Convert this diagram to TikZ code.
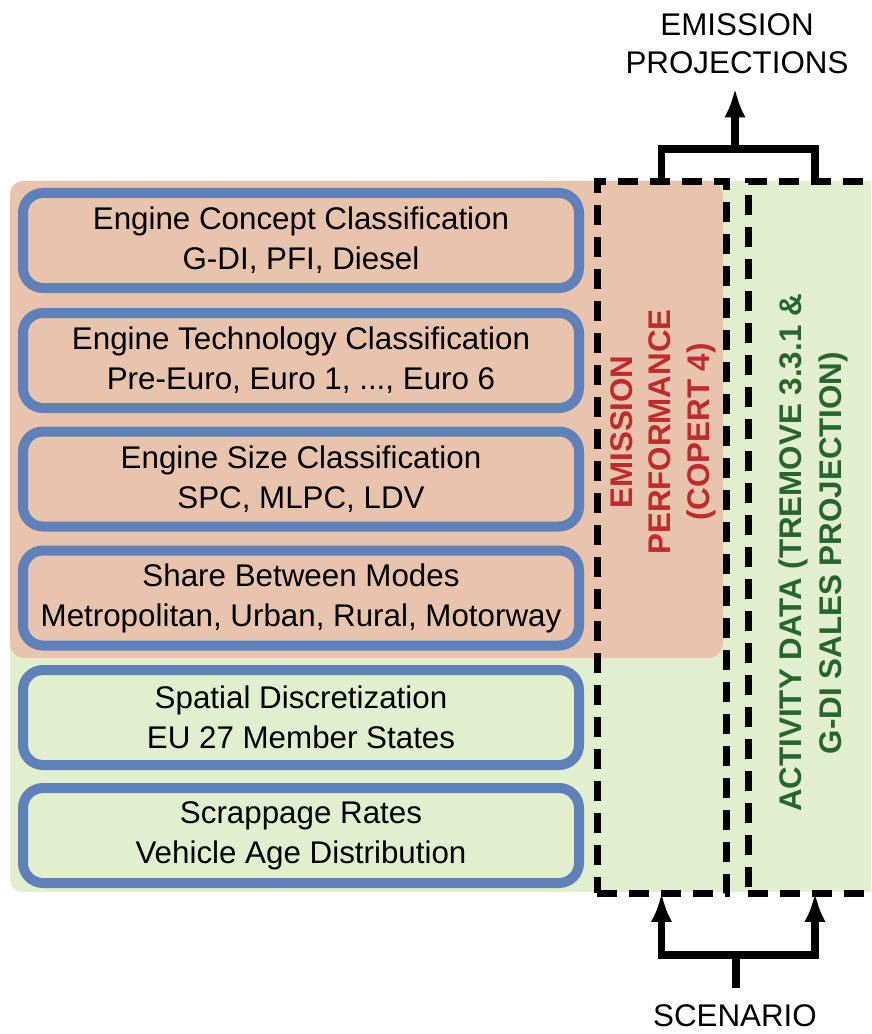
\documentclass[tikz,border=0pt]{standalone}
\usepackage{fontspec}
\setmainfont{Liberation Sans}
\usetikzlibrary{arrows.meta}
\definecolor{bluebox}{RGB}{94,129,186}
\definecolor{salmonbg}{RGB}{232,196,172}
\definecolor{greenbg}{RGB}{226,239,207}
\definecolor{redtxt}{RGB}{192,42,44}
\definecolor{greentxt}{RGB}{38,102,46}
\tikzset{
  x=0.75pt, y=-0.75pt,
  txt/.style={font=\fontsize{23.5}{30}\selectfont, align=center, inner sep=0pt},
  stagebox/.style={txt, draw=bluebox, line width=7.5pt, rounded corners=15pt,
    minimum width=417pt, minimum height=71.25pt},
  dashbox/.style={draw=black, line width=5.25pt, dash pattern=on 15pt off 9pt,
    inner sep=0pt},
  conn/.style={draw=black, line width=5.6pt},
  arr/.style={conn, -{Latex[length=22pt,width=16pt]}},
  vtxt/.style={font=\fontsize{23.5}{29}\selectfont\bfseries, align=center,
    inner sep=0pt, rotate=90}
}
\begin{document}
\begin{tikzpicture}
\useasboundingbox (0,0) rectangle (871,1034);
\begin{scope}
\clip (0,0) rectangle (871,1034);
\fill[greenbg, rounded corners=9pt] (10,181) rectangle (900,892);
\fill[salmonbg, rounded corners=11pt] (10,181) rectangle (723,658);

\node[stagebox] (b1) at (301,240.5) {Engine Concept Classification\\G-DI, PFI, Diesel};
\node[stagebox] (b2) at (301,360.5) {Engine Technology Classification\\Pre-Euro, Euro 1, ..., Euro 6};
\node[stagebox] (b3) at (301,479) {Engine Size Classification\\SPC, MLPC, LDV};
\node[stagebox] (b4) at (301,598) {Share Between Modes\\Metropolitan, Urban, Rural, Motorway};
\node[stagebox] (b5) at (301,717.5) {Spatial Discretization\\EU 27 Member States};
\node[stagebox] (b6) at (301,835.5) {Scrappage Rates\\Vehicle Age Distribution};

\node[dashbox, minimum width=96.75pt, minimum height=533.25pt] (perf) at (661.5,537.5) {};
\node[dashbox, minimum width=100.5pt, minimum height=533.25pt] (act) at (815,537.5) {};

\node[vtxt, text=redtxt] (perftxt) at (663,432) {EMISSION\\PERFORMANCE\\(COPERT 4)};
\node[vtxt, text=greentxt, font=\fontsize{23.5}{30}\selectfont\bfseries] (acttxt) at (813,553) {ACTIVITY DATA (TREMOVE 3.3.1 \&\\G-DI SALES PROJECTION)};
\end{scope}

\node[txt, font=\fontsize{23.5}{28.5}\selectfont] (emis) at (737,44) {EMISSION\\PROJECTIONS};
\node[txt] (scen) at (735,1016) {SCENARIO};

\coordinate (top) at (735,149);
\coordinate (tipT) at (735,88);
\coordinate (bot) at (736,955);
\coordinate (botS) at (736,988);

\draw[conn] (perf.north) |- (top) -| (act.north);
\draw[arr] (top) -- (tipT);
\draw[conn] (botS) -- (bot);
\draw[arr, shorten >=-3pt] (bot) -| (perf.south);
\draw[arr, shorten >=-3pt] (bot) -| (act.south);
\end{tikzpicture}
\end{document}
